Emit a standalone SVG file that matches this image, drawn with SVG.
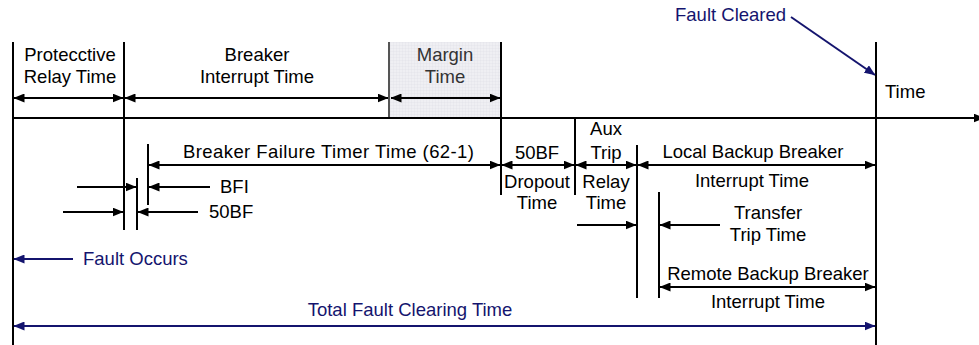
<svg xmlns="http://www.w3.org/2000/svg" width="979" height="345" viewBox="0 0 979 345">
<defs>
<marker id="ah" markerUnits="userSpaceOnUse" markerWidth="11" markerHeight="9" refX="10.5" refY="4.5" orient="auto-start-reverse"><path d="M0,0 L11,4.5 L0,9 z" fill="#000"/></marker>
<marker id="ahn" markerUnits="userSpaceOnUse" markerWidth="11" markerHeight="9" refX="10.5" refY="4.5" orient="auto-start-reverse"><path d="M0,0 L11,4.5 L0,9 z" fill="#14146e"/></marker>
<pattern id="grid" width="3" height="3" patternUnits="userSpaceOnUse"><rect width="3" height="3" fill="#efeff3"/><path d="M0,0 H3 M0,0 V3" stroke="#dcdce4" stroke-width="0.6"/></pattern>
</defs>
<style>
text{font-family:"Liberation Sans",Arial,sans-serif;font-size:18.5px;fill:#000}
.m{text-anchor:middle}
.n{fill:#14146e}
.g{fill:#333}
.v{stroke:#000;stroke-width:2;fill:none}
.a{stroke:#000;stroke-width:2;fill:none;marker-end:url(#ah)}
.d{stroke:#000;stroke-width:2;fill:none;marker-start:url(#ah);marker-end:url(#ah)}
.an{stroke:#14146e;stroke-width:2;fill:none;marker-end:url(#ahn)}
.dn{stroke:#14146e;stroke-width:2;fill:none;marker-start:url(#ahn);marker-end:url(#ahn)}
</style>
<rect id="margin-box" x="389" y="42" width="112" height="76" fill="url(#grid)"/>
<g id="connectors">
<line class="v" x1="13" y1="42" x2="13" y2="345"/>
<line class="v" x1="124" y1="42" x2="124" y2="230"/>
<line class="v" x1="137" y1="178" x2="137" y2="230"/>
<line class="v" x1="148" y1="144" x2="148" y2="205"/>
<line x1="389" y1="42" x2="389" y2="118" stroke="#555" stroke-width="2"/>
<line class="v" x1="501" y1="42" x2="501" y2="195"/>
<line class="v" x1="575" y1="118" x2="575" y2="195"/>
<line class="v" x1="637" y1="145" x2="637" y2="298"/>
<line class="v" x1="659" y1="192" x2="659" y2="298"/>
<line class="v" x1="876" y1="42" x2="876" y2="345"/>
<line class="a" x1="13" y1="118" x2="984" y2="118"/>
<line class="d" x1="14" y1="98" x2="123" y2="98"/>
<line class="d" x1="125" y1="98" x2="388" y2="98"/>
<line class="d" x1="391" y1="98" x2="500" y2="98"/>
<line class="d" x1="149" y1="165" x2="500" y2="165"/>
<line class="d" x1="502" y1="165" x2="574" y2="165"/>
<line class="d" x1="576" y1="165" x2="636" y2="165"/>
<line class="d" x1="638" y1="165" x2="875" y2="165"/>
<line class="a" x1="77" y1="187" x2="136" y2="187"/>
<line class="a" x1="210" y1="187" x2="149" y2="187"/>
<line class="a" x1="63" y1="212" x2="123" y2="212"/>
<line class="a" x1="198" y1="212" x2="138" y2="212"/>
<line class="a" x1="577" y1="225" x2="636" y2="225"/>
<line class="a" x1="720" y1="225" x2="660" y2="225"/>
<line class="d" x1="660" y1="287" x2="875" y2="287"/>
<line class="an" x1="73" y1="259" x2="14" y2="259"/>
<line class="dn" x1="14" y1="326" x2="875" y2="326"/>
<line class="an" x1="791" y1="17" x2="875" y2="75"/>
</g>
<g id="protective-relay"><text class="m" x="70" y="61">Protecctive</text><text class="m" x="70" y="83">Relay Time</text></g>
<g id="breaker-interrupt"><text class="m" x="257" y="61">Breaker</text><text class="m" x="257" y="83">Interrupt Time</text></g>
<g id="margin"><text class="m g" x="445" y="61">Margin</text><text class="m g" x="445" y="83">Time</text></g>
<g id="time"><text x="885" y="98">Time</text></g>
<g id="fault-cleared"><text class="n" x="675" y="21">Fault Cleared</text></g>
<g id="bf-timer"><text x="183" y="158" textLength="291" lengthAdjust="spacing">Breaker Failure Timer Time (62-1)</text></g>
<g id="dropout"><text class="m" x="537" y="159">50BF</text><text class="m" x="537" y="188">Dropout</text><text class="m" x="537" y="209">Time</text></g>
<g id="aux-trip"><text class="m" x="606" y="135">Aux</text><text class="m" x="606" y="159">Trip</text><text class="m" x="606" y="188">Relay</text><text class="m" x="606" y="209">Time</text></g>
<g id="local-backup"><text class="m" x="753" y="158">Local Backup Breaker</text><text class="m" x="752" y="187">Interrupt Time</text></g>
<g id="bfi"><text x="220" y="193">BFI</text></g>
<g id="bf50"><text x="209" y="218">50BF</text></g>
<g id="transfer-trip"><text class="m" x="768" y="219">Transfer</text><text class="m" x="768" y="241">Trip Time</text></g>
<g id="fault-occurs"><text class="n" x="83" y="265">Fault Occurs</text></g>
<g id="remote-backup"><text class="m" x="768" y="280">Remote Backup Breaker</text><text class="m" x="768" y="308">Interrupt Time</text></g>
<g id="total"><text class="m n" x="410" y="316">Total Fault Clearing Time</text></g>
</svg>
